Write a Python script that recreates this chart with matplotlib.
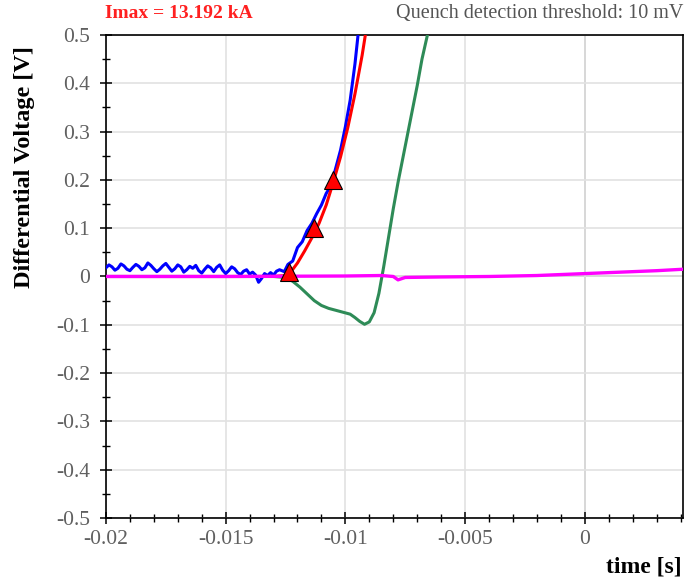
"""
Differential voltage around a quench event
"""
import numpy as np
import matplotlib
matplotlib.use('Agg')
import matplotlib.pyplot as plt
from matplotlib.ticker import MultipleLocator, FixedLocator

plt.rcParams['font.family'] = ['Liberation Serif', 'DejaVu Serif']

# Blue channel: noisy baseline (sampled every 0.125 ms) followed by the rise
blue_noise = [0.018, 0.024, 0.020, 0.013, 0.017, 0.026, 0.022, 0.015, 0.012, 0.019,
              0.025, 0.021, 0.014, 0.018, 0.028, 0.023, 0.016, 0.010, 0.015, 0.022,
              0.027, 0.019, 0.011, 0.016, 0.024, 0.020, 0.009, 0.014, 0.021, 0.017,
              0.023, 0.012, 0.007, 0.015, 0.022, 0.018, 0.010, 0.019, 0.024, 0.013,
              0.006, 0.012, 0.020, 0.016, 0.008, 0.004, 0.011, 0.014, 0.005, 0.009,
              0.003, -0.012, -0.004, 0.006, 0.002, 0.008, 0.003, 0.011, 0.014]
blue_rise_t = [-0.01255, -0.0124, -0.0122, -0.0120, -0.0118, -0.0116, -0.0114,
               -0.0112, -0.0110, -0.0108, -0.0106, -0.0104, -0.0102, -0.0100,
               -0.0098, -0.0096, -0.00946]
blue_rise_v = [0.010, 0.025, 0.032, 0.060, 0.072, 0.095, 0.110, 0.130, 0.148,
               0.172, 0.188, 0.225, 0.262, 0.310, 0.365, 0.440, 0.505]

# Red channel: fitted signal
red_t = [-0.0200, -0.0130, -0.0125, -0.0123, -0.0120, -0.0117, -0.0114, -0.0111,
         -0.0108, -0.0105, -0.0102, -0.0099, -0.0096, -0.0093, -0.00915]
red_v = [0.0, 0.0, 0.002, 0.008, 0.028, 0.053, 0.080, 0.110, 0.148, 0.196,
         0.248, 0.308, 0.378, 0.458, 0.505]

# Green channel: compensated voltage
green_t = [-0.0200, -0.0130, -0.0125, -0.0122, -0.0119, -0.0116, -0.0113, -0.0110,
           -0.0107, -0.0104, -0.0101, -0.0098, -0.0096, -0.0094, -0.0092, -0.0090,
           -0.0088, -0.0086, -0.0084, -0.0082, -0.0080, -0.0078, -0.0076, -0.0074,
           -0.0072, -0.0070, -0.0068, -0.00655]
green_v = [0.0, 0.0, -0.002, -0.010, -0.022, -0.036, -0.050, -0.060, -0.066, -0.070,
           -0.074, -0.078, -0.085, -0.093, -0.099, -0.094, -0.075, -0.035, 0.020,
           0.080, 0.140, 0.195, 0.245, 0.295, 0.345, 0.395, 0.450, 0.505]

# Magenta channel: nearly flat
magenta_t = [-0.0200, -0.0150, -0.0100, -0.0085, -0.0080, -0.0078, -0.0075, -0.0060,
             -0.0040, -0.0020, -0.0010, 0.0000, 0.0010, 0.0020, 0.0030, 0.0041]
magenta_v = [0.0, 0.0, 0.001, 0.002, 0.0, -0.007, -0.002, -0.001, 0.0, 0.002,
             0.004, 0.006, 0.008, 0.010, 0.012, 0.015]

# Detection markers on the red signal
marker_t = [-0.01234, -0.01130, -0.01053]
marker_v = [0.01, 0.10, 0.20]

x_ticks = [-0.02, -0.015, -0.01, -0.005, 0]
x_labels = ['-0.02', '-0.015', '-0.01', '-0.005', '0']
y_ticks = [-0.5, -0.4, -0.3, -0.2, -0.1, 0, 0.1, 0.2, 0.3, 0.4, 0.5]
y_labels = ['-0.5', '-0.4', '-0.3', '-0.2', '-0.1', '0', '0.1', '0.2', '0.3', '0.4', '0.5']

blue_t = list(np.round(-0.02 + 0.000125 * np.arange(len(blue_noise)), 6)) + blue_rise_t
blue_v = blue_noise + blue_rise_v

fig = plt.figure(figsize=(6.85, 5.8), dpi=100)
ax = fig.add_axes([0.1547, 0.1069, 0.8423, 0.8328])

ax.grid(True, which='major', color='#e2e2e2', linewidth=1.2, zorder=0)
ax.axhline(0, color='#999999', linewidth=1.2, zorder=1)
ax.axvline(0, color='#999999', linewidth=1.2, zorder=1)

ax.plot(blue_t, blue_v, color='#0000ff', linewidth=2.2, zorder=3)
ax.plot(green_t, green_v, color='#2e8b57', linewidth=2.2, zorder=3)
ax.plot(red_t, red_v, color='#ff0000', linewidth=2.2, zorder=4)
ax.plot(magenta_t, magenta_v, color='#ff00ff', linewidth=2.4, zorder=5)
ax.plot(marker_t, marker_v, linestyle='none', marker='^', markersize=13,
        markerfacecolor='#ff0000', markeredgecolor='#000000', markeredgewidth=0.8,
        zorder=6, clip_on=False)

ax.set_xlim(-0.02, 0.0041)
ax.set_ylim(-0.5, 0.5)

ax.xaxis.set_major_locator(FixedLocator(x_ticks))
ax.xaxis.set_minor_locator(MultipleLocator(0.001))
ax.yaxis.set_major_locator(FixedLocator(y_ticks))
ax.yaxis.set_minor_locator(MultipleLocator(0.05))
ax.set_xticklabels(x_labels)
ax.set_yticklabels(y_labels)

ax.tick_params(which='major', direction='inout', length=9, width=1.1,
               labelsize=15.5, labelcolor='#606060', top=False, right=False)
ax.tick_params(which='minor', direction='inout', length=6, width=1.0,
               top=False, right=False)
ax.tick_params(axis='x', pad=4)
ax.tick_params(axis='y', pad=7)

for side in ['left', 'bottom', 'top', 'right']:
    ax.spines[side].set_color('#000000')
    ax.spines[side].set_linewidth(1.2)

fig.text(25 / 685, 1 - 167 / 580, 'Differential Voltage [V]', rotation=90,
         ha='center', va='center', fontsize=17.5, fontweight='bold')
fig.text(0.995, 0.004, 'time [s]', ha='right', va='bottom', fontsize=17,
         fontweight='bold')
fig.text(0.153, 0.977, 'Imax = 13.192 kA', ha='left', va='center', fontsize=14,
         fontweight='bold', color='#ff2020')
fig.text(0.997, 0.977, 'Quench detection threshold: 10 mV', ha='right', va='center',
         fontsize=14.5, color='#555555')

fig.savefig('out.png', dpi=100)
